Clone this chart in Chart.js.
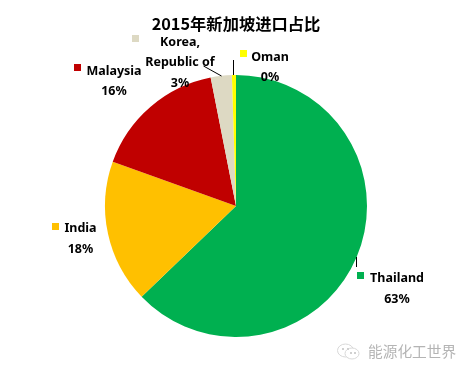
<!DOCTYPE html>
<html>
<head>
<meta charset="utf-8">
<script src="https://cdn.jsdelivr.net/npm/chart.js@4/dist/chart.umd.js"></script>
<style>
  html, body { margin: 0; padding: 0; background: #fff; }
  #wrap { position: relative; width: 472px; height: 374px; }
</style>
</head>
<body>
<div id="wrap"><canvas id="pie"></canvas></div>
<script>
const categories = ["Thailand", "India", "Malaysia", "Korea, Republic of", "Oman"];
const shareValues = [62.8, 17.7, 16.4, 2.6, 0.5];
const shareLabels = ["63%", "18%", "16%", "3%", "0%"];
const sliceColors = ["#00B050", "#FFC000", "#C00000", "#DDD9C3", "#FFFF00"];
const titleText = "2015年新加坡进口占比";
const watermarkText = "能源化工世界";

const labelFont = 'bold 12.5px "Noto Sans", sans-serif';
const cjkFont = '"Noto Sans CJK SC", sans-serif';

// hand placed labels: key square, text lines (centred on cx)
const labelSpots = [
  { key: [357, 272], cx: 397, lines: [[categories[0], 278], [shareLabels[0], 299]] },
  { key: [52, 223], cx: 80.5, lines: [[categories[1], 228], [shareLabels[1], 249]] },
  { key: [74, 64], cx: 114, lines: [[categories[2], 71], [shareLabels[2], 91]] },
  { key: [132, 35], cx: 180, lines: [["Korea,", 42], ["Republic of", 62], [shareLabels[3], 83]] },
  { key: [240, 50], cx: 270, lines: [[categories[4], 57], [shareLabels[4], 77]] },
];
const leaders = [
  [[356, 257], [356, 267]],
  [[221, 76], [203, 66]],
  [[233, 75], [233, 60]],
];

const pieLabels = {
  id: "pieLabels",
  afterDatasetsDraw(chart) {
    const c = chart.ctx;
    c.save();
    c.strokeStyle = "#000";
    c.lineWidth = 1;
    leaders.forEach(([a, b]) => {
      c.beginPath();
      c.moveTo(a[0] + 0.5, a[1]);
      c.lineTo(b[0] + 0.5, b[1]);
      c.stroke();
    });
    c.font = labelFont;
    c.textAlign = "center";
    c.textBaseline = "middle";
    labelSpots.forEach((s, i) => {
      c.fillStyle = sliceColors[i];
      c.fillRect(s.key[0], s.key[1], 7, 7);
      c.fillStyle = "#000";
      s.lines.forEach(([t, y]) => c.fillText(t, s.cx, y));
    });

    // watermark
    c.fillStyle = "#b4b4b4";
    c.font = "14.7px " + cjkFont;
    c.textAlign = "left";
    c.fillText(watermarkText, 368, 351);
    c.strokeStyle = "#d8d8d8";
    c.beginPath();
    c.ellipse(345.5, 350.5, 8, 6.5, 0, 0, Math.PI * 2);
    c.stroke();
    c.beginPath();
    c.ellipse(352, 353.5, 7, 5.5, 0, 0, Math.PI * 2);
    c.fillStyle = "#fff";
    c.fill();
    c.stroke();
    c.fillStyle = "#d0d0d0";
    [[342, 348], [347, 348], [350, 352], [354, 352]].forEach(([x, y]) => {
      c.fillRect(x, y, 2, 2);
    });
    c.restore();
  },
};

new Chart(document.getElementById("pie"), {
  type: "pie",
  data: {
    labels: categories,
    datasets: [{
      data: shareValues,
      backgroundColor: sliceColors,
      borderWidth: 0,
    }],
  },
  options: {
    responsive: true,
    maintainAspectRatio: false,
    animation: false,
    layout: { padding: { left: 105, right: 105, top: 0, bottom: 37 } },
    plugins: {
      legend: { display: false },
      tooltip: { enabled: false },
      title: {
        display: true,
        text: titleText,
        color: "#000",
        font: { family: cjkFont, size: 16.3, weight: "bold", lineHeight: 1.2 },
        padding: { top: 14, bottom: 41.44 },
      },
    },
  },
  plugins: [pieLabels],
});
</script>
</body>
</html>
